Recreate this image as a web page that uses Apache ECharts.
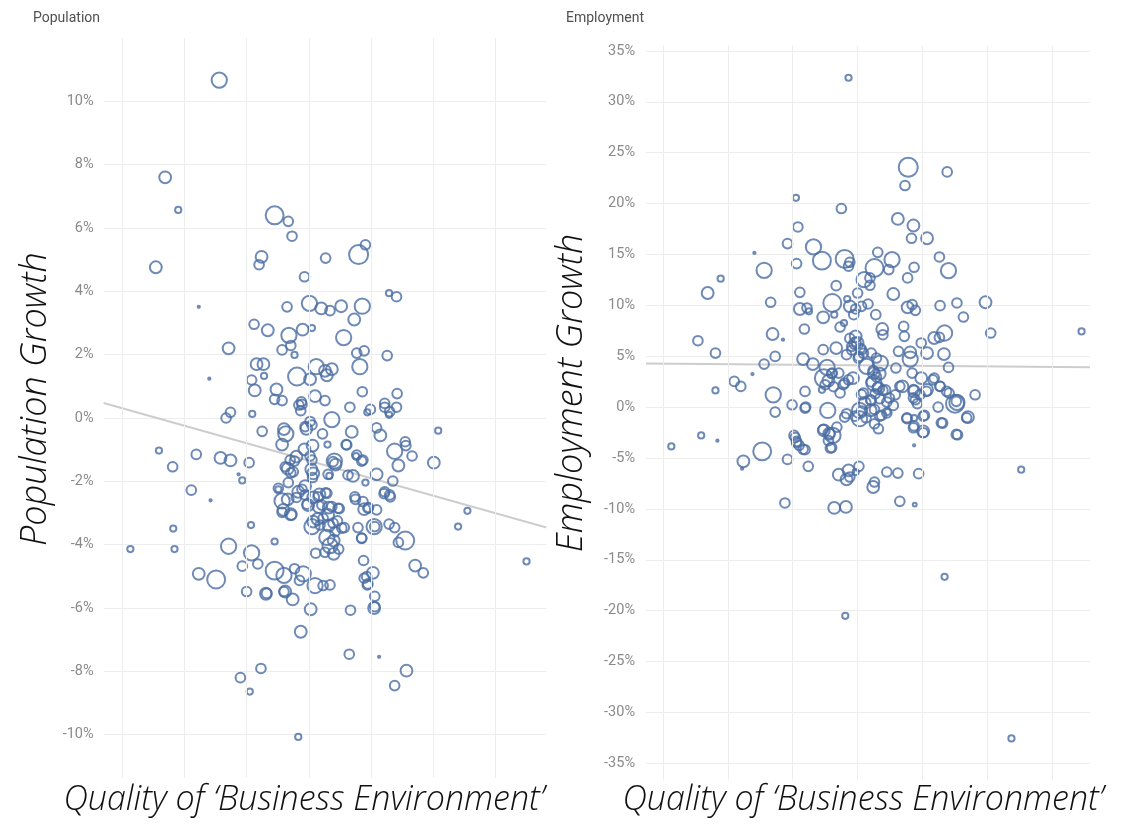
<!DOCTYPE html>
<html>
<head>
<meta charset="utf-8">
<title>Population and Employment Growth vs Business Environment</title>
<script src="https://cdn.jsdelivr.net/npm/echarts@6/dist/echarts.min.js"></script>
<style>
  html, body { margin: 0; padding: 0; background: #ffffff; }
  #chart { width: 1147px; height: 834px; }
</style>
</head>
<body>
<div id="chart"></div>
<script>
// Each city: [business-environment score, growth in %, city size]
const populationPoints = [
  [-1.44,10.67,4.5],[-2.31,7.60,2.7],[-2.10,6.57,0.75],[-2.46,4.76,2.7],[-1.77,3.51,0.1],
  [-0.55,6.40,6.2],[-0.33,6.21,1.8],[-0.27,5.74,1.8],[-0.76,5.09,2.7],[-0.80,4.84,1.8],
  [0.27,5.05,1.8],[0.80,5.16,7.0],[0.91,5.47,1.8],[-0.07,4.46,1.8],[-1.60,1.24,0.1],
  [-1.29,2.20,2.7],[-0.88,2.96,1.8],[-0.66,2.77,2.7],[-0.35,3.51,1.8],[0.01,3.62,4.5],
  [0.20,3.46,2.7],[0.34,3.39,1.8],[0.52,3.53,2.7],[0.86,3.53,4.5],[0.73,3.11,2.7],
  [1.29,3.94,0.75],[1.41,3.83,1.8],[-0.32,2.61,4.5],[-0.10,2.79,2.7],[0.05,2.84,0.75],
  [0.56,2.54,4.5],[-0.29,2.29,1.8],[-0.43,2.15,1.8],[-0.23,1.99,0.75],[1.26,1.97,1.8],
  [0.77,2.05,1.8],[0.89,2.12,1.8],[0.82,1.62,4.5],[-0.84,1.70,2.7],[-0.73,1.70,2.7],
  [-0.72,1.33,0.75],[-0.92,1.20,1.8],[-0.87,0.87,2.7],[-0.52,0.90,2.7],[-0.55,0.59,1.8],
  [-0.43,0.55,1.8],[-0.19,1.31,6.2],[0.02,1.22,2.7],[0.12,1.62,4.5],[0.26,1.49,2.7],
  [0.37,1.54,2.7],[0.29,1.35,2.7],[0.10,0.69,2.7],[0.26,0.55,1.8],[-0.11,0.43,1.8],
  [-0.13,0.23,1.8],[0.86,0.83,1.8],[1.42,0.77,1.8],[0.66,0.34,1.8],[0.99,0.27,1.8],
  [0.94,0.18,0.75],[1.22,0.34,1.8],[1.41,0.34,1.8],[-0.91,0.13,0.75],[-1.26,0.18,1.8],
  [-1.33,0.00,1.8],[0.37,-0.05,4.5],[0.02,-0.11,1.8],
  [1.29,0.10,0.75],[2.08,-0.40,0.75],[-0.75,-0.42,1.8],[-0.40,-0.35,2.7],[-0.37,-0.50,4.5],
  [-0.43,-0.84,2.7],[-0.04,-0.34,2.7],[0.22,-0.50,1.8],[0.06,-0.87,2.7],[0.30,-0.84,0.75],
  [0.69,-0.44,2.7],[0.60,-0.84,1.8],[1.09,-0.31,1.8],[1.15,-0.55,2.7],[1.38,-1.05,4.5],
  [1.56,-0.87,1.8],[1.66,-1.20,1.8],[2.01,-1.41,2.7],[1.44,-1.50,2.7],[-0.07,-0.99,2.7],
  [0.02,-1.20,1.8],[0.41,-1.36,4.5],[0.43,-1.47,2.7],[0.76,-1.20,0.75],[0.85,-1.36,1.8],
  [-2.41,-1.03,0.75],[-1.81,-1.15,1.8],[-1.42,-1.26,2.7],[-1.26,-1.34,2.7],[-0.96,-1.41,1.8],
  [-2.19,-1.54,1.8],[-1.13,-1.78,0.1],[-1.07,-1.97,0.75],[-1.89,-2.28,1.8],[-1.58,-2.60,0.1],
  [-0.34,-1.60,2.7],[-0.23,-1.36,1.8],[-0.29,-1.73,1.8],[-0.33,-2.04,1.8],[0.04,-1.62,2.7],
  [0.06,-1.88,1.8],[0.33,-1.83,0.75],[0.71,-1.83,2.7],[0.91,-2.04,0.75],[1.09,-1.78,2.7],
  [1.35,-1.99,1.8],[-0.49,-2.25,0.75],[-0.11,-2.25,1.8],[-0.06,-2.15,2.7],[-0.43,-2.62,4.5],
  [-0.34,-2.57,2.7],[-0.20,-2.51,1.8],[-0.03,-2.72,1.8],[0.07,-2.51,2.7],[0.17,-2.41,2.7],
  [0.27,-2.36,1.8],[-0.43,-2.98,1.8],[-0.29,-3.04,2.7],[0.16,-2.81,2.7],[0.32,-2.83,2.7],
  [0.49,-2.86,1.8],[0.75,-2.57,1.8],[0.89,-2.88,2.7],[0.96,-2.83,1.8],[1.21,-2.39,1.8],
  [1.31,-2.49,1.8],[2.55,-2.93,0.75],[2.40,-3.43,0.75],[3.50,-4.53,0.75],[-2.18,-3.49,0.75],
  [-0.93,-3.38,0.75],[-2.87,-4.14,0.75],[-2.16,-4.14,0.75],[0.05,-3.43,4.5],[0.14,-3.19,2.7],
  [0.32,-3.40,2.7],[0.46,-3.25,1.8],[0.57,-3.46,1.8],[0.79,-3.46,1.8],[1.05,-3.43,4.5],
  [0.85,-3.79,1.8],[1.29,-3.35,1.8],[1.38,-3.46,1.8],[1.44,-3.93,1.8],[1.55,-3.87,6.2],
  [0.29,-3.77,4.5],[0.34,-4.03,4.5],[0.40,-3.87,2.7],[0.26,-4.24,1.8],[0.48,-4.14,1.8],
  [0.40,-4.29,2.7],[0.11,-4.27,1.8],[-0.55,-3.90,0.75],[-1.29,-4.05,4.5],[-0.92,-4.26,4.5],
  [-0.82,-4.61,1.8],[-1.07,-4.68,1.8],[-1.77,-4.92,2.7],[-1.49,-5.10,6.2],[-0.55,-4.82,6.2],
  [-0.40,-4.97,4.5],[-0.23,-4.76,1.8],[-0.09,-4.92,4.5],[-0.15,-5.13,1.8],[0.10,-5.29,4.5],
  [0.23,-5.29,1.8],[0.34,-5.27,1.8],[0.88,-4.50,1.8],[1.03,-4.89,2.7],[0.89,-5.06,1.8],
  [0.94,-5.27,1.8],[1.71,-4.66,2.7],[1.84,-4.89,1.8],[-1.00,-5.48,1.8],[-0.69,-5.55,2.7],
  [-0.40,-5.48,1.8],[-0.26,-5.73,2.7],[1.06,-5.63,1.8],[0.03,-6.04,2.7],[0.67,-6.07,1.8],
  [1.05,-6.00,2.7],[-0.13,-6.75,2.7],[0.65,-7.46,1.8],[1.13,-7.54,0.1],[-0.77,-7.91,1.8],
  [-1.10,-8.20,1.8],[-0.95,-8.64,0.75],[1.57,-7.98,2.7],[1.38,-8.45,1.8],[-0.17,-10.07,0.75],
  [0.39,-1.38,1.8],[0.61,-0.85,1.8],[0.77,-1.17,1.8],[0.87,-1.33,1.8],[0.31,-1.78,1.8],
  [0.05,-1.33,1.8],[0.07,-1.75,2.7],[-0.30,-1.33,1.8],[-0.25,-1.70,1.8],[-0.20,-1.22,2.7],
  [-0.38,-1.54,1.8],[-0.49,-2.22,1.8],[-0.41,-2.90,2.7],[-0.28,-3.06,1.8],[-0.17,-2.33,2.7],
  [-0.06,-2.43,1.8],[-0.01,-2.75,2.7],[0.15,-2.49,1.8],[0.29,-2.38,1.8],[0.21,-2.75,1.8],
  [0.37,-2.80,1.8],[0.47,-2.85,1.8],[0.31,-3.06,2.7],[0.07,-3.27,2.7],[0.18,-3.38,1.8],
  [0.23,-3.17,1.8],[0.39,-3.32,1.8],[0.53,-3.48,1.8],[0.42,-3.59,1.8],[0.85,-3.80,1.8],
  [1.06,-3.43,1.8],[0.74,-2.49,1.8],[0.87,-2.64,1.8],[0.95,-2.85,1.8],[1.09,-2.90,1.8],
  [1.22,-2.33,1.8],[1.30,-2.43,1.8],[0.63,-1.80,1.8],[0.93,-5.01,1.8],[0.95,-5.24,1.8],
  [-0.68,-5.54,1.8],[-0.38,-5.48,2.7],[1.06,-5.96,1.8],[-0.12,0.51,1.8],[-0.16,0.41,1.8],
  [1.22,0.46,1.8],[1.30,0.20,1.8],[-0.06,-0.27,1.8],[0.05,-0.22,1.8],[1.55,-0.75,1.8]
];

const employmentPoints = [
  [-0.14,32.36,0.75],[0.78,23.57,7.0],[1.38,23.11,1.8],[0.73,21.77,1.8],[-0.95,20.56,0.75],
  [-0.25,19.51,1.8],[0.62,18.49,2.7],[0.86,17.84,2.7],[0.83,16.59,1.8],[1.07,16.59,2.7],
  [-0.92,17.70,1.8],[-1.08,16.07,1.8],[-1.59,15.15,0.1],[-0.68,15.74,4.5],[0.31,15.21,1.8],
  [-0.55,14.39,6.2],[-0.20,14.56,6.2],[-0.12,14.23,1.8],[-0.14,13.84,1.8],[0.53,14.49,4.5],
  [1.26,14.75,1.8],[0.87,13.74,1.8],[1.40,13.41,4.5],[0.48,13.51,1.8],[0.26,13.67,6.2],
  [-1.44,13.44,4.5],[-0.94,14.10,1.8],[0.10,12.52,4.5],[0.19,12.69,1.8],[0.19,11.97,1.8],
  [0.77,12.69,1.8],[-0.33,11.93,1.8],[-2.31,11.21,2.7],[-2.11,12.62,0.75],[0.55,11.11,2.7],
  [0.00,11.21,1.8],[-0.16,10.62,0.75],[-1.34,10.30,1.8],[-0.89,11.28,1.8],[-0.39,10.23,6.2],
  [-0.89,9.64,2.7],[-0.78,9.74,1.8],[-0.75,9.41,0.75],[-0.53,8.82,2.7],[-0.36,9.08,0.75],
  [-0.12,9.90,2.7],[-0.03,9.64,1.8],[0.06,9.90,1.8],[0.16,10.13,1.8],[-0.06,9.08,1.8],
  [0.28,9.08,1.8],[0.77,9.80,2.7],[0.84,10.07,1.8],[0.89,9.51,1.8],[1.27,9.97,1.8],
  [1.53,10.23,1.8],[1.97,10.30,2.7],[1.63,8.85,1.8],[2.05,7.28,1.8],[3.45,7.44,0.75],
  [0.71,7.93,1.8],[0.38,7.67,2.7],[0.39,7.11,1.8],[0.72,6.95,1.8],[1.34,7.28,4.5],
  [1.18,6.79,2.7],[1.26,6.85,1.8],[0.98,6.30,1.8],[1.07,5.31,2.7],[1.33,5.21,2.7],
  [1.40,3.90,1.8],[0.81,5.38,2.7],[0.81,4.72,4.5],[0.63,5.48,1.8],[-0.82,7.67,1.8],
  [-1.31,7.18,2.7],[-1.15,6.62,0.1],[-0.21,8.26,0.75],[-0.27,7.87,1.8],[-0.03,6.95,2.7],
  [0.00,6.30,2.7],[-0.09,5.97,1.8],[0.06,5.64,1.8],[0.02,4.98,1.8],[-0.17,5.15,1.8],
  [-0.33,5.80,2.7],[-0.53,5.64,1.8],[0.21,5.31,1.8],[0.29,4.82,1.8],[0.35,4.33,4.5],
  [0.14,4.00,4.5],[0.25,3.34,2.7],[-2.46,6.52,1.8],[-2.19,5.31,1.8],[-1.27,4.98,1.8],
  [-1.44,4.23,1.8],[-0.84,4.72,2.7],[-0.69,4.23,2.7],[-0.47,3.90,4.5],[-0.39,3.34,1.8],
  [-0.52,2.85,6.2],[-0.29,3.34,1.8],[-1.62,3.25,0.1],[-1.90,2.52,1.8],[-1.80,2.03,1.8],
  [-2.19,1.64,0.75],[-1.30,1.21,4.5],[-0.81,1.54,1.8],[-0.55,1.70,0.75],[-0.20,2.36,1.8],
  [-0.07,2.85,2.7],[0.25,2.36,4.5],[0.32,1.87,2.7],[0.43,1.70,1.8],[0.58,1.21,1.8],
  [0.59,3.84,1.8],[0.84,3.34,1.8],[0.98,2.85,2.7],[1.18,2.85,1.8],[1.27,2.03,1.8],
  [1.41,1.38,1.8],[1.53,0.46,4.5],[1.81,1.21,1.8],[0.69,2.03,2.7],[0.87,1.54,2.7],
  [1.07,1.70,2.7],[0.89,0.72,1.8],[0.09,1.38,1.8],[0.20,0.72,1.8],[0.49,0.89,1.8],
  [-1.01,0.23,1.8],[-0.81,-0.10,1.8],[-0.46,-0.33,4.5],
  [-1.27,-0.49,1.8],[-0.17,-0.65,1.8],[0.03,-0.33,4.5],[0.03,-1.14,4.5],[0.20,-0.33,2.7],
  [0.37,-0.82,1.8],[0.46,-0.49,0.75],[-0.20,-0.98,1.8],[-0.32,-1.96,1.8],[-0.52,-2.29,2.7],
  [-0.44,-2.62,2.7],[-0.38,-2.78,4.5],[0.26,-1.64,1.8],[0.32,-2.13,1.8],[0.76,-1.14,1.8],
  [0.87,-1.08,0.75],[0.87,-1.86,1.8],[1.03,-0.82,1.8],[1.01,-2.39,2.7],[1.24,0.00,1.8],
  [1.50,0.33,6.2],[1.70,-0.98,2.7],[1.31,-1.57,1.8],[1.54,-2.72,1.8],[0.92,0.33,1.8],
  [-0.80,0.00,1.8],[-2.87,-3.86,0.75],[-2.41,-2.78,0.75],[-2.16,-3.30,0.1],[-1.76,-5.33,2.7],
  [-1.78,-6.05,0.1],[-1.47,-4.35,6.2],[-0.98,-2.78,1.8],[-0.94,-3.37,1.8],[-0.90,-3.76,1.8],
  [-0.81,-4.19,1.8],[-1.08,-5.14,1.8],[-0.76,-5.82,1.8],[-0.42,-4.02,1.8],[0.87,-3.76,0.1],
  [-0.29,-6.64,2.7],[-0.14,-6.22,2.7],[-0.17,-7.10,2.7],[-0.12,-6.87,1.8],[0.02,-5.82,1.8],
  [-0.03,-6.38,0.75],[0.45,-6.38,1.8],[0.62,-6.48,1.8],[0.94,-6.54,1.8],[0.26,-7.36,1.8],
  [0.24,-7.85,2.7],[2.52,-6.15,0.75],[-1.12,-9.42,1.8],[-0.36,-9.91,2.7],[-0.18,-9.81,2.7],
  [0.65,-9.26,1.8],[0.88,-9.58,0.3],[1.34,-16.68,0.75],[-0.19,-20.51,0.75],[2.37,-32.55,0.75],
  [-0.22,2.20,1.8],[-0.14,2.68,1.8],[-0.27,1.39,1.8],
  [-0.12,6.75,1.8],[-0.04,6.26,2.7],[0.04,5.78,1.8],[0.09,5.29,1.8],[0.01,4.80,1.8],[-0.09,5.61,1.8],
  [0.24,3.60,1.8],[0.29,2.96,1.8],[0.34,3.28,2.7],[0.21,2.47,1.8],[0.31,1.97,1.8],[0.39,1.64,1.8],
  [0.27,1.31,1.8],[0.34,0.82,1.8],[0.21,0.66,1.8],[0.45,0.49,1.8],[0.55,0.16,1.8],
  [0.06,1.23,1.8],[0.11,0.41,2.7],[0.06,-0.40,1.8],[-0.04,-0.89,1.8],[0.13,-1.05,1.8],
  [0.26,-0.24,1.8],[0.34,-0.89,1.8],[0.45,-0.57,1.8],
  [0.65,2.04,1.8],[0.86,1.71,1.8],[0.86,0.90,1.8],[0.96,1.23,1.8],[1.06,1.55,1.8],
  [1.16,2.68,1.8],[1.27,2.04,1.8],[1.37,1.55,1.8],[1.52,0.57,1.8],
  [0.76,-1.05,1.8],[0.86,-2.03,1.8],[1.01,-0.89,1.8],[1.01,-2.52,1.8],[1.29,-1.54,1.8],
  [1.52,-2.68,1.8],[1.68,-1.05,1.8],
  [-0.53,-2.20,1.8],[-0.43,-2.60,1.8],[-0.45,-3.30,1.8],[-0.40,-3.98,1.8],
  [-0.96,-3.00,1.8],[-0.94,-3.50,1.8],[-0.84,-4.15,1.8],
  [-0.45,2.60,2.7],[-0.40,3.30,1.8],[-0.50,2.20,1.8],[-0.37,2.00,1.8]
];

// Axis ticks and labels
const populationTicks = [-10, -8, -6, -4, -2, 0, 2, 4, 6, 8, 10];
const employmentTicks = [-35, -30, -25, -20, -15, -10, -5, 0, 5, 10, 15, 20, 25, 30, 35];
const scoreGridTicks = [-3, -2, -1, 0, 1, 2, 3];

// Least-squares fit lines (growth % = intercept + slope * score)
const populationFit = { intercept: -1.35, slope: -0.552 };
const employmentFit = { intercept: 4.10, slope: -0.054 };

// Axis extents
const populationScore = { min: -3.30, max: 3.82 };
const employmentScore = { min: -3.26, max: 3.58 };
const populationRange = { min: -12, max: 12, top: 12, bottom: -11.36 };
const employmentRange = { min: -40, max: 40, top: 35.5, bottom: -36.6 };

const titles = ['Population', 'Employment'];
const yTitles = ['Population Growth', 'Employment Growth'];
const xTitle = 'Quality of \u2018Business Environment\u2019';

const circleColor = '#4a6da2';
const gridColor = '#ededed';
const labelColor = '#8a8a8a';

const chart = echarts.init(document.getElementById('chart'), null, { renderer: 'canvas' });

function yAxisFor(idx, range, step, ticks, gap) {
  return {
    type: 'value', gridIndex: idx, min: range.min, max: range.max, interval: step,
    axisLine: { show: false }, axisTick: { show: false },
    axisLabel: {
      color: labelColor, fontFamily: 'Roboto', fontSize: 14.5, margin: gap,
      formatter: v => ticks.indexOf(v) >= 0 ? v + '%' : ''
    },
    splitLine: { show: true, showMinLine: false, showMaxLine: false,
      lineStyle: { color: gridColor, width: 1 } }
  };
}

function xAxisFor(idx, ext) {
  return {
    type: 'value', gridIndex: idx, min: ext.min, max: ext.max,
    axisLine: { show: false }, axisTick: { show: false },
    axisLabel: { show: false }, splitLine: { show: false }
  };
}

function fitSeries(idx, fit, ext, range) {
  return {
    type: 'line', xAxisIndex: idx, yAxisIndex: idx, silent: true, z: 2,
    showSymbol: false, symbol: 'none',
    data: [
      [ext.min, fit.intercept + fit.slope * ext.min],
      [ext.max, fit.intercept + fit.slope * ext.max]
    ],
    lineStyle: { color: '#cdcdcd', width: 2 },
    markLine: {
      silent: true, symbol: ['none', 'none'], label: { show: false },
      lineStyle: { color: gridColor, width: 1, type: 'solid' },
      emphasis: { disabled: true },
      data: scoreGridTicks.map(v => [{ coord: [v, range.top] }, { coord: [v, range.bottom] }])
    }
  };
}

function bubbleSeries(idx, data) {
  return {
    type: 'scatter', xAxisIndex: idx, yAxisIndex: idx, silent: true, z: 3,
    data: data,
    symbol: 'circle',
    symbolSize: d => 7.2 * Math.sqrt(d[2]),
    itemStyle: { color: 'rgba(255,255,255,0)', borderColor: circleColor, borderWidth: 2 },
    emphasis: { disabled: true }
  };
}

function axisTitle(text, x, y, vertical) {
  const size = vertical ? 36 : 34;
  return {
    type: 'text', x: x, y: y, rotation: vertical ? Math.PI / 2 : 0, silent: true,
    style: {
      text: text, font: 'italic 300 ' + size + 'px "Open Sans", "DejaVu Sans", sans-serif',
      fill: '#111111',
      textAlign: 'center', textVerticalAlign: 'middle',
      align: 'center', verticalAlign: 'middle'
    }
  };
}

const titleStyle = { fontFamily: 'Roboto', fontSize: 14, fontWeight: 'normal', color: '#505050' };

chart.setOption({
  animation: false,
  backgroundColor: '#ffffff',
  title: [
    { text: titles[0], left: 28, top: 6, textStyle: titleStyle },
    { text: titles[1], left: 561, top: 6, textStyle: titleStyle }
  ],
  grid: [
    { left: 103.6, top: 38, width: 442.8, height: 760 },
    { left: 646, top: -5.8, width: 444, height: 820 }
  ],
  xAxis: [xAxisFor(0, populationScore), xAxisFor(1, employmentScore)],
  yAxis: [
    yAxisFor(0, populationRange, 2, populationTicks, 10),
    yAxisFor(1, employmentRange, 5, employmentTicks, 11)
  ],
  series: [
    fitSeries(0, populationFit, populationScore, populationRange),
    fitSeries(1, employmentFit, employmentScore, employmentRange),
    bubbleSeries(0, populationPoints),
    bubbleSeries(1, employmentPoints)
  ],
  graphic: [
    axisTitle(yTitles[0], 36, 399, true),
    axisTitle(yTitles[1], 572, 393, true),
    axisTitle(xTitle, 304, 800, false),
    axisTitle(xTitle, 863, 800, false)
  ]
});
</script>
</body>
</html>
